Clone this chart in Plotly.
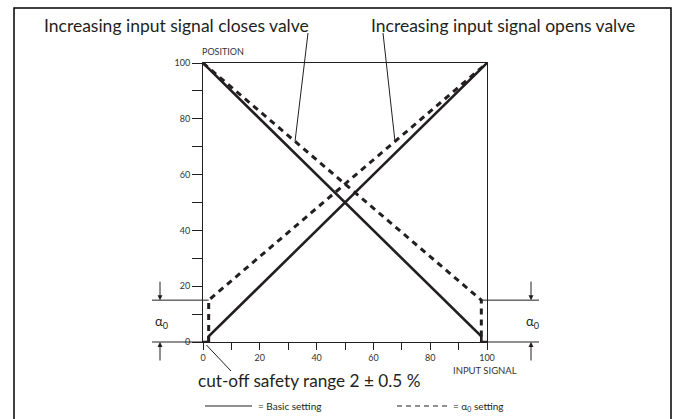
import plotly.graph_objects as go

# --- data -----------------------------------------------------------------
cutoff = 2          # cut-off safety range, % of input signal
alpha0 = 15         # alpha-0 starting position, %

basic_open_x = [0, cutoff, cutoff, 100]
basic_open_y = [0, 0, cutoff, 100]
basic_close_x = [0, 100 - cutoff, 100 - cutoff, 100]
basic_close_y = [100, cutoff, 0, 0]

a0_open_x = [cutoff, cutoff, 100]
a0_open_y = [0, alpha0, 100]
a0_close_x = [0, 100 - cutoff, 100 - cutoff]
a0_close_y = [100, alpha0, 0]

major_ticks = [0, 20, 40, 60, 80, 100]
minor_ticks = [10, 30, 50, 70, 90]

# --- layout geometry (pixels) ----------------------------------------------
W, H = 677, 419
L, R, T, B = 203, 487, 63, 342
INK = "#231f20"
FONT = "Lato"


def px_x(p):
    return (p - L) / (R - L)


def px_y(p):
    return (B - p) / (B - T)


def dx(v):
    return v / 100.0


def dy(v):
    return v / 100.0


fig = go.Figure()

fig.add_trace(go.Scatter(x=basic_open_x, y=basic_open_y, mode="lines",
                         line=dict(color=INK, width=2.6), hoverinfo="skip"))
fig.add_trace(go.Scatter(x=basic_close_x, y=basic_close_y, mode="lines",
                         line=dict(color=INK, width=2.6), hoverinfo="skip"))
fig.add_trace(go.Scatter(x=a0_open_x, y=a0_open_y, mode="lines",
                         line=dict(color=INK, width=3, dash="6px,5px"), hoverinfo="skip"))
fig.add_trace(go.Scatter(x=a0_close_x, y=a0_close_y, mode="lines",
                         line=dict(color=INK, width=3, dash="6px,5px"), hoverinfo="skip"))

shapes = []
thin = dict(color=INK, width=1)

# outer frame
shapes.append(dict(type="rect", xref="paper", yref="paper",
                   x0=px_x(14), y0=px_y(430), x1=px_x(671), y1=px_y(8),
                   line=dict(color="#000000", width=1.5)))

# alpha-0 reference lines on both sides
shapes.append(dict(type="line", xref="paper", yref="paper",
                   x0=px_x(152), x1=dx(cutoff), y0=dy(alpha0), y1=dy(alpha0), line=thin))
shapes.append(dict(type="line", xref="paper", yref="paper",
                   x0=px_x(152), x1=0, y0=0, y1=0, line=thin))
shapes.append(dict(type="line", xref="paper", yref="paper",
                   x0=dx(100 - cutoff), x1=px_x(539), y0=dy(alpha0), y1=dy(alpha0), line=thin))
shapes.append(dict(type="line", xref="paper", yref="paper",
                   x0=1, x1=px_x(539), y0=0, y1=0, line=thin))

# pointer lines from the captions to the dashed curves
slope = (100 - alpha0) / (100 - cutoff)
xc = 32.4
yc = 100 - slope * xc
xo = 67.6
yo = alpha0 + slope * (xo - cutoff)
shapes.append(dict(type="line", xref="paper", yref="paper",
                   x0=px_x(308), y0=px_y(33), x1=dx(xc), y1=dy(yc), line=thin))
shapes.append(dict(type="line", xref="paper", yref="paper",
                   x0=px_x(383), y0=px_y(33), x1=dx(xo), y1=dy(yo), line=thin))
shapes.append(dict(type="line", xref="paper", yref="paper",
                   x0=px_x(231), y0=px_y(371), x1=dx(cutoff) * 0.6, y1=px_y(345), line=thin))

# legend samples
shapes.append(dict(type="line", xref="paper", yref="paper",
                   x0=px_x(205), x1=px_x(252), y0=px_y(406), y1=px_y(406), line=thin))
shapes.append(dict(type="line", xref="paper", yref="paper",
                   x0=px_x(397), x1=px_x(448), y0=px_y(406), y1=px_y(406),
                   line=dict(color=INK, width=1, dash="5px,4px")))

annotations = []


def text(x, y, s, size, anchor="left", valign="middle", color=INK):
    annotations.append(dict(xref="paper", yref="paper", x=x, y=y, text=s,
                            showarrow=False, xanchor=anchor, yanchor=valign,
                            font=dict(family=FONT, size=size, color=color)))


text(px_x(42), px_y(25), "Increasing input signal closes valve", 17.5)
text(px_x(369), px_y(25), "Increasing input signal opens valve", 17.5)
text(px_x(196), px_y(381), "cut-off safety range 2 ± 0.5 %", 17.2)
text(px_x(200), px_y(52), "POSITION", 9, color="#333333")
text(px_x(451), px_y(370), "INPUT SIGNAL", 9.5, color="#333333")
text(px_x(256), px_y(406), "= Basic setting", 10)
text(px_x(451), px_y(406), "= α<sub>0</sub> setting", 10)
text(px_x(161), px_y(322), "α<sub>0</sub>", 13, anchor="center")
text(px_x(532), px_y(322), "α<sub>0</sub>", 13, anchor="center")


def arrow(xp, y_head, tail_offset):
    annotations.append(dict(xref="paper", yref="paper", x=xp, y=y_head,
                            axref="pixel", ayref="pixel", ax=0, ay=tail_offset,
                            text="", showarrow=True, arrowhead=2, arrowsize=1,
                            arrowwidth=1, arrowcolor=INK, standoff=0))


# arrows marking the alpha-0 band on both sides
for xp in (px_x(160), px_x(531)):
    arrow(xp, dy(alpha0), -20)
    arrow(xp, 0, 20)

axis_common = dict(range=[0, 100], showgrid=False, zeroline=False,
                   showline=True, linecolor=INK, linewidth=1, mirror=True,
                   ticks="outside", tickcolor=INK, tickwidth=1,
                   tickvals=major_ticks,
                   tickfont=dict(family=FONT, size=9, color="#333333"),
                   fixedrange=True)

fig.update_layout(
    width=W, height=H,
    margin=dict(l=L, r=W - R, t=T, b=H - B),
    paper_bgcolor="white", plot_bgcolor="white",
    showlegend=False,
    xaxis=dict(axis_common, ticklen=7,
               minor=dict(tickvals=minor_ticks, ticks="outside", ticklen=7,
                          tickcolor=INK, tickwidth=1, showgrid=False)),
    yaxis=dict(axis_common, ticklen=10,
               minor=dict(tickvals=minor_ticks, ticks="outside", ticklen=10,
                          tickcolor=INK, tickwidth=1, showgrid=False)),
    shapes=shapes,
    annotations=annotations,
)

fig.write_html("out.html")
